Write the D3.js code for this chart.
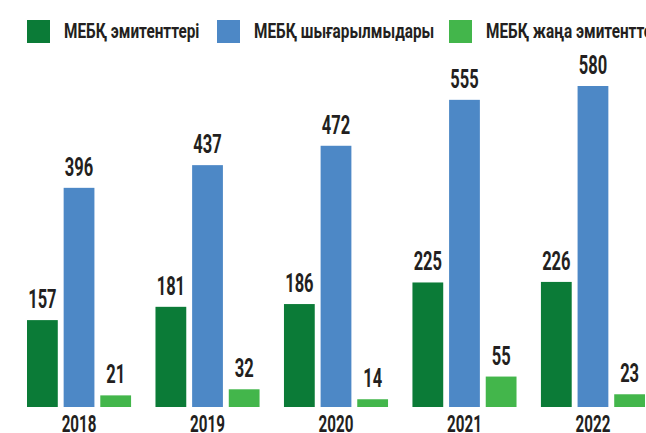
<!DOCTYPE html>
<html>
<head>
<meta charset="utf-8">
<script src="https://cdn.jsdelivr.net/npm/d3@7"></script>
<style>
  html, body { margin: 0; padding: 0; background: #fff; }
  svg { display: block; overflow: hidden; }
  text { font-family: Roboto, "Noto Sans", sans-serif; font-weight: bold; fill: #231f20; }
</style>
</head>
<body>
<div id="chart"></div>
<script>
// data
const years = ['2018', '2019', '2020', '2021', '2022'];
const seriesNames = ['МЕБҚ эмитенттері', 'МЕБҚ шығарылмыдары', 'МЕБҚ жаңа эмитенттері'];
const issuers = [157, 181, 186, 225, 226];
const issues = [396, 437, 472, 555, 580];
const newIssuers = [21, 32, 14, 55, 23];
const colors = ['#0b7b37', '#4d88c6', '#43b64b'];

const width = 646, height = 433;
const narrow = 0.66; // the original uses a condensed face, fake it with scaleX

const svg = d3.select('#chart').append('svg')
    .attr('width', width)
    .attr('height', height);

const allSeries = [issuers, issues, newIssuers];

const x0 = d3.scaleBand()
    .domain(years)
    .range([27, 645])
    .paddingInner(0.19)
    .paddingOuter(0);

const x1 = d3.scaleBand()
    .domain(d3.range(seriesNames.length))
    .range([0, x0.bandwidth()])
    .paddingInner(0.16);

const y = d3.scaleLinear()
    .domain([0, 580])
    .range([407, 86]);

// bars
const groups = svg.selectAll('g.year')
    .data(years)
    .enter().append('g')
    .attr('class', 'year')
    .attr('transform', d => `translate(${x0(d)},0)`);

const cells = (d, i) => allSeries.map((s, k) => ({k: k, v: s[i]}));

groups.selectAll('rect')
    .data(cells)
    .enter().append('rect')
    .attr('x', d => x1(d.k))
    .attr('y', d => y(d.v))
    .attr('width', x1.bandwidth())
    .attr('height', d => y(0) - y(d.v))
    .attr('fill', d => colors[d.k]);

groups.selectAll('text.val')
    .data(cells)
    .enter().append('text')
    .attr('class', 'val')
    .attr('transform', d => `translate(${x1(d.k) + x1.bandwidth() / 2},${y(d.v) - 12}) scale(${narrow},1)`)
    .attr('text-anchor', 'middle')
    .attr('font-size', 25)
    .text(d => d.v);

// year labels under the middle bar
const xAxis = d3.axisBottom(x0).tickSize(0).tickPadding(0);
const axisG = svg.append('g')
    .attr('transform', `translate(0,${y(0)})`)
    .call(xAxis);
axisG.select('.domain').remove();
axisG.selectAll('text')
    .attr('dy', null)
    .attr('y', 0)
    .attr('transform', `translate(0,25) scale(${narrow},1)`)
    .attr('font-size', 23)
    .attr('fill', '#231f20')
    .attr('font-family', 'Roboto, sans-serif');

// legend
const legendX = [27, 217, 449];
const legend = svg.selectAll('g.legend')
    .data(seriesNames)
    .enter().append('g')
    .attr('class', 'legend')
    .attr('transform', (d, i) => `translate(${legendX[i]},20)`);

legend.append('rect')
    .attr('width', 23)
    .attr('height', 23)
    .attr('fill', (d, i) => colors[i]);

legend.append('text')
    .attr('transform', 'translate(37,18) scale(0.73,1)')
    .attr('font-size', 21)
    .text(d => d);
</script>
</body>
</html>
